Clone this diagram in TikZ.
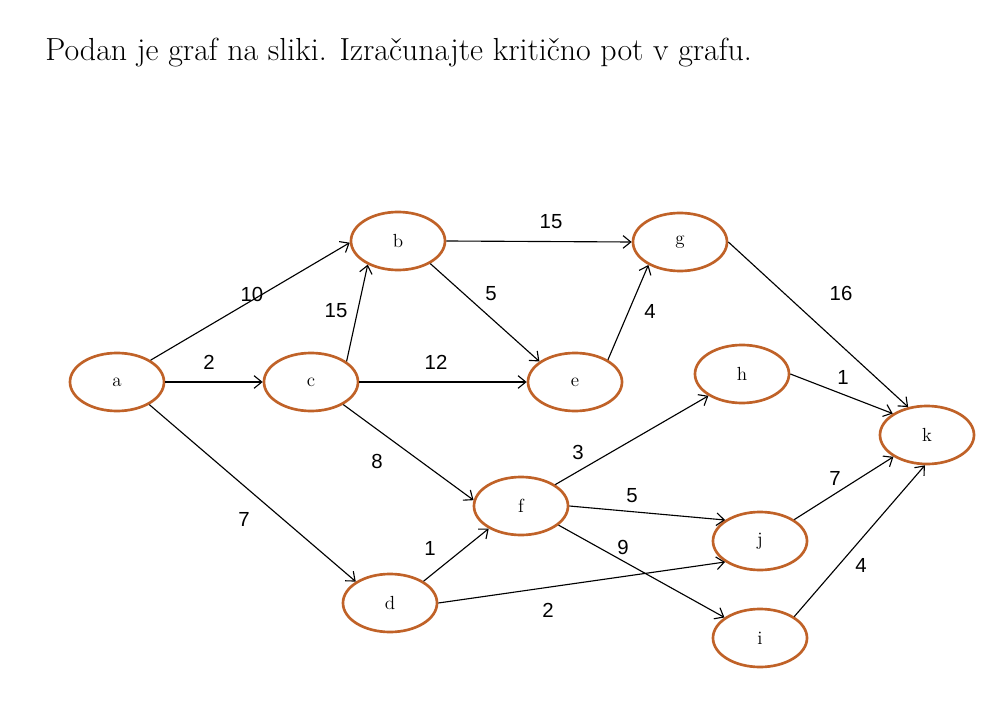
\documentclass[tikz,border=0pt]{standalone}
\usepackage{fontspec}
\newfontfamily\labfont{Liberation Sans}
\usetikzlibrary{shapes.geometric,arrows.meta}
\definecolor{nodeorange}{RGB}{192,98,40}
\begin{document}
\begin{tikzpicture}[x=0.025cm,y=-0.025cm,
  vert/.style={ellipse,draw=nodeorange,line width=1.9pt,minimum width=2.35cm,minimum height=1.45cm,inner sep=0pt,font=\fontsize{13.5}{15}\selectfont},
  edge/.style={draw=black,line width=0.8pt,-{Straight Barb[length=5.5pt,width=9pt]}},
  wlab/.style={font=\labfont\fontsize{14.5}{16}\selectfont,inner sep=0pt}]
\useasboundingbox (0,0) rectangle (1001,702);
\node[anchor=base west,inner sep=0pt,font=\fontsize{22.7}{26}\selectfont] (title) at (45,61) {Podan je graf na sliki. Izračunajte kritično pot v grafu.};
\node[vert] (a) at (117,382) {a};
\node[vert] (b) at (398,241) {b};
\node[vert] (c) at (311,382) {c};
\node[vert] (d) at (390,603) {d};
\node[vert] (e) at (575,382) {e};
\node[vert] (f) at (521,506) {f};
\node[vert] (g) at (680,242) {g};
\node[vert] (h) at (742,374) {h};
\node[vert] (i) at (760,638) {i};
\node[vert] (j) at (760,541) {j};
\node[vert] (k) at (927,435) {k};
\draw[edge] (a.33) -- (b.182);
\draw[edge] (a.0) -- (c.180);
\draw[edge] (a.-35) -- (d.148);
\draw[edge] (c.30) -- (b.218);
\draw[edge] (b.0) -- (g.180);
\draw[edge] (b.-35) -- (e.150);
\draw[edge] (c.0) -- (e.180);
\draw[edge] (e.34) -- (g.216);
\draw[edge] (g.0) -- (k.124);
\draw[edge] (c.-35) -- (f.173);
\draw[edge] (d.33) -- (f.215);
\draw[edge] (d.0) -- (j.211);
\draw[edge] (f.32) -- (h.213);
\draw[edge] (f.0) -- (j.149);
\draw[edge] (f.-27) -- (i.150);
\draw[edge] (h.0) -- (k.148);
\draw[edge] (j.32) -- (k.213);
\draw[edge] (i.32) -- (k.266);
\node[wlab] (l1) at (252,294) {10};
\node[wlab] (l2) at (209,362) {2};
\node[wlab] (l3) at (336,311) {15};
\node[wlab] (l4) at (244,519) {7};
\node[wlab] (l5) at (551,222) {15};
\node[wlab] (l6) at (491,294) {5};
\node[wlab] (l7) at (436,362) {12};
\node[wlab] (l8) at (650,311) {4};
\node[wlab] (l9) at (841,293) {16};
\node[wlab] (l10) at (843,377) {1};
\node[wlab] (l11) at (377,461) {8};
\node[wlab] (l12) at (578,452) {3};
\node[wlab] (l13) at (632,496) {5};
\node[wlab] (l14) at (623,547) {9};
\node[wlab] (l15) at (430,548) {1};
\node[wlab] (l16) at (548,610) {2};
\node[wlab] (l17) at (835,478) {7};
\node[wlab] (l18) at (861,565) {4};
\end{tikzpicture}
\end{document}
